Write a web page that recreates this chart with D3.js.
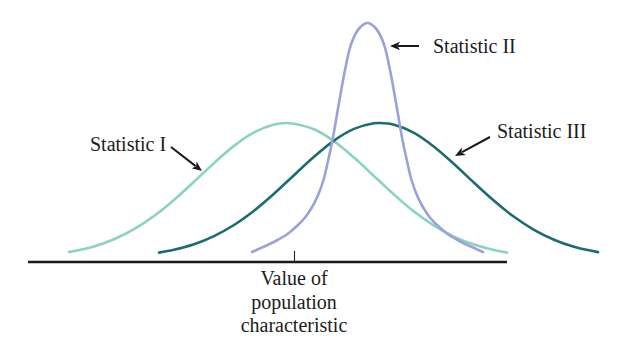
<!DOCTYPE html>
<html>
<head>
<meta charset="utf-8">
<script src="https://cdn.jsdelivr.net/npm/d3@7"></script>
<style>
  html, body { margin: 0; padding: 0; background: #fff; }
  svg { display: block; }
</style>
</head>
<body>
<svg id="chart" width="620" height="345"></svg>
<script>
// Sampling distributions of three statistics.
// x: value of the statistic (0 = value of the population characteristic)
// y: relative density
const statIx   = [-5.625, -5, -4.5, -4, -3.5, -3, -2.5, -2, -1.5, -1, -0.5, -0.175, 0.5, 1, 1.5, 2, 2.5, 3, 3.5, 4, 4.5, 5, 5.325];
const statIy   = [0.10, 0.155, 0.227, 0.328, 0.46, 0.621, 0.803, 0.989, 1.161, 1.296, 1.375, 1.39, 1.327, 1.207, 1.044, 0.859, 0.674, 0.505, 0.364, 0.254, 0.174, 0.12, 0.095];

const statIIx  = [-1.05, -0.6625, -0.4125, -0.1625, 0.0875, 0.2875, 0.4375, 0.5875, 0.7375, 0.85, 0.9625, 1.1375, 1.275, 1.4375, 1.6375, 1.8375,
                  2.0375, 2.2375, 2.4, 2.5375, 2.7125, 2.825, 2.9375, 3.0875, 3.2375, 3.3875, 3.5875, 3.8375, 4.0875, 4.3375, 4.725];
const statIIy  = [0.10, 0.17, 0.22, 0.28, 0.365, 0.45, 0.54, 0.655, 0.82, 1.01, 1.22, 1.62, 1.92, 2.19, 2.34, 2.39,
                  2.34, 2.19, 1.92, 1.62, 1.22, 1.01, 0.82, 0.655, 0.54, 0.45, 0.365, 0.28, 0.22, 0.17, 0.10];

const statIIIx = [-3.375, -3, -2.5, -2, -1.5, -1, -0.5, 0, 0.5, 1, 1.5, 2, 2.15, 2.5, 3, 3.5, 4, 4.5, 5, 5.5, 6, 6.5, 7, 7.6];
const statIIIy = [0.094, 0.122, 0.177, 0.259, 0.37, 0.513, 0.683, 0.868, 1.052, 1.214, 1.331, 1.387, 1.39, 1.373, 1.291, 1.153, 0.98, 0.793, 0.612, 0.452, 0.322, 0.223, 0.152, 0.0985];

const seriesNames = ["Statistic I", "Statistic II", "Statistic III"];
const tickValues = [0];
const tickLabelLines = ["Value of", "population", "characteristic"];
const axisExtent = [-6.65, 5.325];

// where each label's arrow points (data units)
const arrowTipX = [-2.3, 2.4, 4.025];
const arrowTipY = [0.91, 2.16, 1.06];

// ---- layout & style ----
const colors = ["#8dd2bd", "#9aa2d8", "#1f6b70"];
const font = "'Liberation Serif', 'Times New Roman', serif";
const textColor = "#1c1c1c";

const svg = d3.select("#chart");

const x = d3.scaleLinear().domain([-6.6, 7.6]).range([30, 598]);
const y = d3.scaleLinear().domain([0, 2.4]).range([262, 22]);

const line = d3.line()
  .x(d => x(d[0]))
  .y(d => y(d[1]))
  .curve(d3.curveCatmullRom.alpha(0.5));

const series = [
  { name: seriesNames[0], xs: statIx,   ys: statIy,   color: colors[0] },
  { name: seriesNames[2], xs: statIIIx, ys: statIIIy, color: colors[2] },
  { name: seriesNames[1], xs: statIIx,  ys: statIIy,  color: colors[1] }
];

svg.append("g").selectAll("path")
  .data(series)
  .join("path")
  .attr("d", s => line(d3.zip(s.xs, s.ys)))
  .attr("fill", "none")
  .attr("stroke", s => s.color)
  .attr("stroke-width", 2.6)
  .attr("stroke-linecap", "round");

// horizontal axis
const axisG = svg.append("g").attr("transform", `translate(0,${y(0)})`);
axisG.call(d3.axisTop(x).tickValues(tickValues).tickSize(11).tickFormat(""))
  .call(g => g.select(".domain").remove())
  .call(g => g.selectAll(".tick line").attr("stroke", "#222").attr("stroke-width", 1.1));
axisG.append("line")
  .attr("x1", x(axisExtent[0])).attr("x2", x(axisExtent[1]))
  .attr("y1", 0).attr("y2", 0)
  .attr("stroke", "#1a1a1a")
  .attr("stroke-width", 2.6);

// tick label
const tickLabel = svg.append("text")
  .attr("x", x(tickValues[0]))
  .attr("y", 285)
  .attr("text-anchor", "middle")
  .attr("font-family", font)
  .attr("font-size", 20)
  .attr("fill", textColor);
tickLabel.selectAll("tspan")
  .data(tickLabelLines)
  .join("tspan")
  .attr("x", x(tickValues[0]))
  .attr("dy", (d, i) => i === 0 ? 0 : 23.5)
  .text(d => d);

// labels with arrows
const labelPos = [
  { x: 90,  y: 151, tail: [-31, -24] },
  { x: 433, y: 53,  tail: [29, 0] },
  { x: 497, y: 138, tail: [35, -19] }
];

seriesNames.forEach((name, i) => {
  const p = labelPos[i];
  svg.append("text")
    .attr("x", p.x).attr("y", p.y)
    .attr("font-family", font)
    .attr("font-size", 20)
    .attr("fill", textColor)
    .text(name);

  const tx = x(arrowTipX[i]), ty = y(arrowTipY[i]);
  const sx = tx + p.tail[0], sy = ty + p.tail[1];
  const len = Math.hypot(tx - sx, ty - sy);
  const ux = (tx - sx) / len, uy = (ty - sy) / len;
  const headL = 10, headW = 4.2;
  const bx = tx - ux * headL, by = ty - uy * headL;

  svg.append("line")
    .attr("x1", sx).attr("y1", sy)
    .attr("x2", bx + ux * 2).attr("y2", by + uy * 2)
    .attr("stroke", "#1a1a1a")
    .attr("stroke-width", 2);
  svg.append("path")
    .attr("d", `M${tx},${ty}L${bx - uy * headW},${by + ux * headW}L${bx + ux * 2.5},${by + uy * 2.5}L${bx + uy * headW},${by - ux * headW}Z`)
    .attr("fill", "#1a1a1a");
});
</script>
</body>
</html>
